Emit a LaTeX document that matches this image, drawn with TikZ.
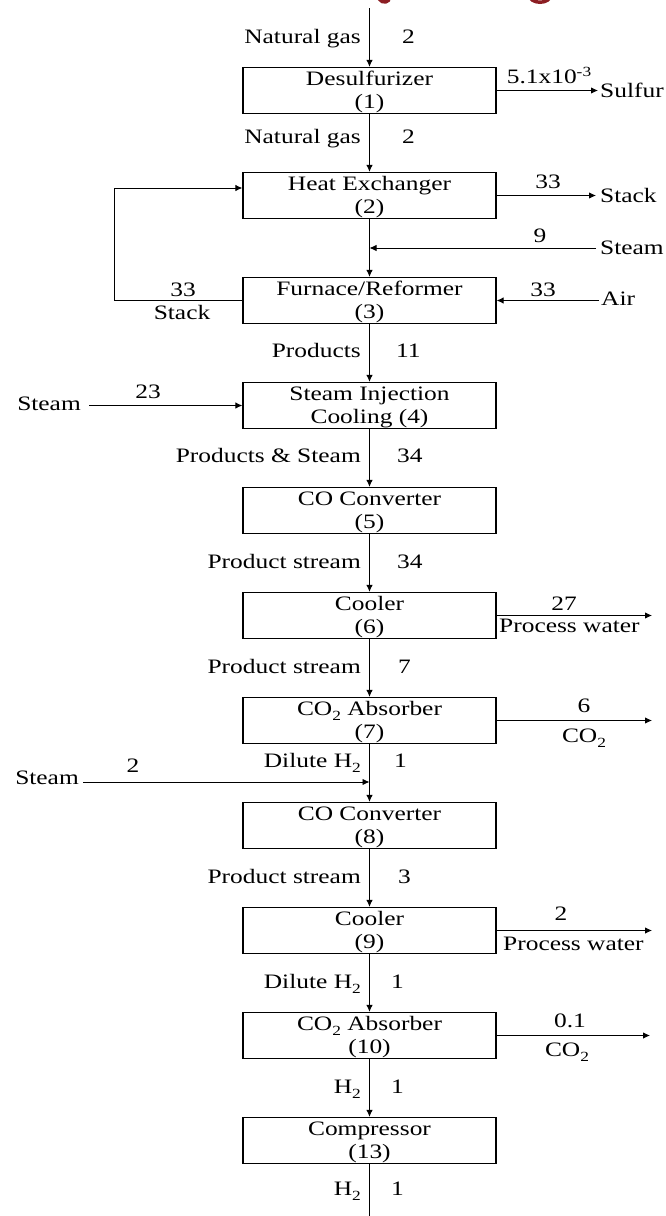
\documentclass[tikz,border=0pt]{standalone}
\usepackage{fontspec}
\setmainfont{Liberation Serif}[FakeStretch=1.24]
\usetikzlibrary{arrows.meta}
% small raised / lowered indices
\newcommand\sbt[1]{\raisebox{-5pt}{\fontsize{14}{14}\selectfont #1}}
\newcommand\spt[1]{\raisebox{7pt}{\fontsize{14}{14}\selectfont #1}}
% strut giving every line inside a unit box the same height and depth
\newcommand\bxs{\rule[-5.5pt]{0pt}{23pt}}
\definecolor{titlered}{RGB}{140,30,35}

\begin{document}
\begin{tikzpicture}[x=1pt,y=-1pt,
  every node/.style={font=\fontsize{20.5}{23}\selectfont, inner sep=0pt},
  unit/.style={draw, line width=1.3pt, minimum width=253pt, minimum height=45pt, align=center},
  flow/.style={line width=0.9pt, -{Latex[length=7pt,width=6.5pt]}},
  lbl/.style={anchor=base east},
  num/.style={anchor=base west},
  tag/.style={anchor=base},
  side/.style={anchor=base west}]

\useasboundingbox (0,0) rectangle (666,1216);
\fill[white] (0,0) rectangle (666,1216);

% process units
\node[unit] (b1)  at (369.5,90.5)   {\bxs Desulfurizer\\\bxs (1)};
\node[unit] (b2)  at (369.5,195.5)  {\bxs Heat Exchanger\\\bxs (2)};
\node[unit] (b3)  at (369.5,300.5)  {\bxs Furnace/Reformer\\\bxs (3)};
\node[unit] (b4)  at (369.5,405.5)  {\bxs Steam Injection\\\bxs Cooling (4)};
\node[unit] (b5)  at (369.5,510.5)  {\bxs CO Converter\\\bxs (5)};
\node[unit] (b6)  at (369.5,615.5)  {\bxs Cooler\\\bxs (6)};
\node[unit] (b7)  at (369.5,720.5)  {\bxs CO\sbt{2} Absorber\\\bxs (7)};
\node[unit] (b8)  at (369.5,825.5)  {\bxs CO Converter\\\bxs (8)};
\node[unit] (b9)  at (369.5,930.5)  {\bxs Cooler\\\bxs (9)};
\node[unit] (b10) at (369.5,1035.5) {\bxs CO\sbt{2} Absorber\\\bxs (10)};
\node[unit] (b13) at (369.5,1140.5) {\bxs Compressor\\\bxs (13)};

% free ends and junctions
\coordinate (feed) at (369.5,8);
\coordinate (j1) at (369.5,248);
\coordinate (j2) at (369.5,782);
\coordinate (outH2) at (369.5,1223);
\coordinate (oSul) at (598,90.5);
\coordinate (oStk) at (596,195.5);
\coordinate (iSt9) at (596,248);
\coordinate (iAir) at (599,300.5);
\coordinate (oPw6) at (652,615.5);
\coordinate (oCo7) at (652,720.5);
\coordinate (oPw9) at (652,930.5);
\coordinate (oCo10) at (650,1035.5);
\coordinate (iSt23) at (89,405.5);
\coordinate (iSt2) at (83,782);

% main train
\draw[flow] (feed) -- (b1);
\draw[flow] (b1) -- (b2);
\draw[flow] (b2) -- (b3);
\draw[flow] (b3) -- (b4);
\draw[flow] (b4) -- (b5);
\draw[flow] (b5) -- (b6);
\draw[flow] (b6) -- (b7);
\draw[flow] (b7) -- (b8);
\draw[flow] (b8) -- (b9);
\draw[flow] (b9) -- (b10);
\draw[flow] (b10) -- (b13);

% side streams
\draw[flow] (b1.east) -- (oSul);
\draw[flow] (b2.east) -- (oStk);
\draw[flow] (iSt9) -- (j1);
\draw[flow] (iAir) -- (b3.east);
\draw[flow] (b6.east) -- (oPw6);
\draw[flow] (b7.east) -- (oCo7);
\draw[flow] (b9.east) -- (oPw9);
\draw[flow] (b10.east) -- (oCo10);
\draw[flow] (iSt23) -- (b4.west);
\draw[flow] (iSt2) -- (j2);
% flue gas returned from the furnace to the heat exchanger
\draw[flow] (b3.west) -- ++(-128,0) |- ([yshift=7.5pt]b2.west);

% stream labels along the main train
\node[lbl] (l0) at (361,43) {Natural gas};      \node[num] (n0) at (402,43) {2};
\node[lbl] (l1) at (361,143) {Natural gas};     \node[num] (n1) at (402,143) {2};
\node[lbl] (l3) at (361,357) {Products};        \node[num] (n3) at (396,357) {11};
\node[lbl] (l4) at (361,462) {Products \& Steam}; \node[num] (n4) at (397,462) {34};
\node[lbl] (l5) at (361,568) {Product stream};  \node[num] (n5) at (397,568) {34};
\node[lbl] (l6) at (361,673) {Product stream};  \node[num] (n6) at (398,673) {7};
\node[lbl] (l7) at (361,767) {Dilute H\sbt{2}}; \node[num] (n7) at (394,767) {1};
\node[lbl] (l8) at (361,883) {Product stream};  \node[num] (n8) at (398,883) {3};
\node[lbl] (l9) at (361,988) {Dilute H\sbt{2}}; \node[num] (n9) at (391,988) {1};
\node[lbl] (l10) at (361,1093) {H\sbt{2}};      \node[num] (n10) at (391,1093) {1};
\node[lbl] (l13) at (361,1195) {H\sbt{2}};      \node[num] (n13) at (391,1195) {1};

% labels of the side streams
\node[tag] (q1) at (549,83) {5.1x10\spt{-3}};   \node[side] (t1) at (600,97) {Sulfur};
\node[tag] (q2) at (548,188) {33};              \node[side] (t2) at (600,202) {Stack};
\node[tag] (q9) at (540,242) {9};               \node[side] (t9) at (600,254) {Steam};
\node[tag] (qa) at (543,296) {33};              \node[side] (ta) at (601,305) {Air};
\node[tag] (q6) at (564,610) {27};              \node[side] (t6) at (499,632) {Process water};
\node[tag] (q7) at (584,712) {6};               \node[tag] (t7) at (584,742) {CO\sbt{2}};
\node[tag] (q9b) at (561,920) {2};              \node[side] (t9b) at (503,950) {Process water};
\node[tag] (q10) at (570,1027) {0.1};           \node[tag] (t10) at (567,1056) {CO\sbt{2}};
\node[tag] (q23) at (148,398) {23};             \node[lbl] (t23) at (81,410) {Steam};
\node[tag] (q2s) at (133,772) {2};              \node[lbl] (t2s) at (79,784) {Steam};
\node[tag] (qs) at (183,296) {33};              \node[tag] (ts) at (182,319) {Stack};

% product line and heading remnants, cut at the page edge
\begin{scope}
  \clip (0,0) rectangle (666,1216);
  \draw[flow] (b13) -- (outH2);
  \draw[titlered, line width=3.5pt, line cap=round] (378,-5) .. controls (379,2) and (385,4) .. (389,0);
  \fill[titlered, even odd rule] (540,-4) ellipse (12 and 8) (540,-4) ellipse (8 and 4.5);
\end{scope}
\end{tikzpicture}
\end{document}
